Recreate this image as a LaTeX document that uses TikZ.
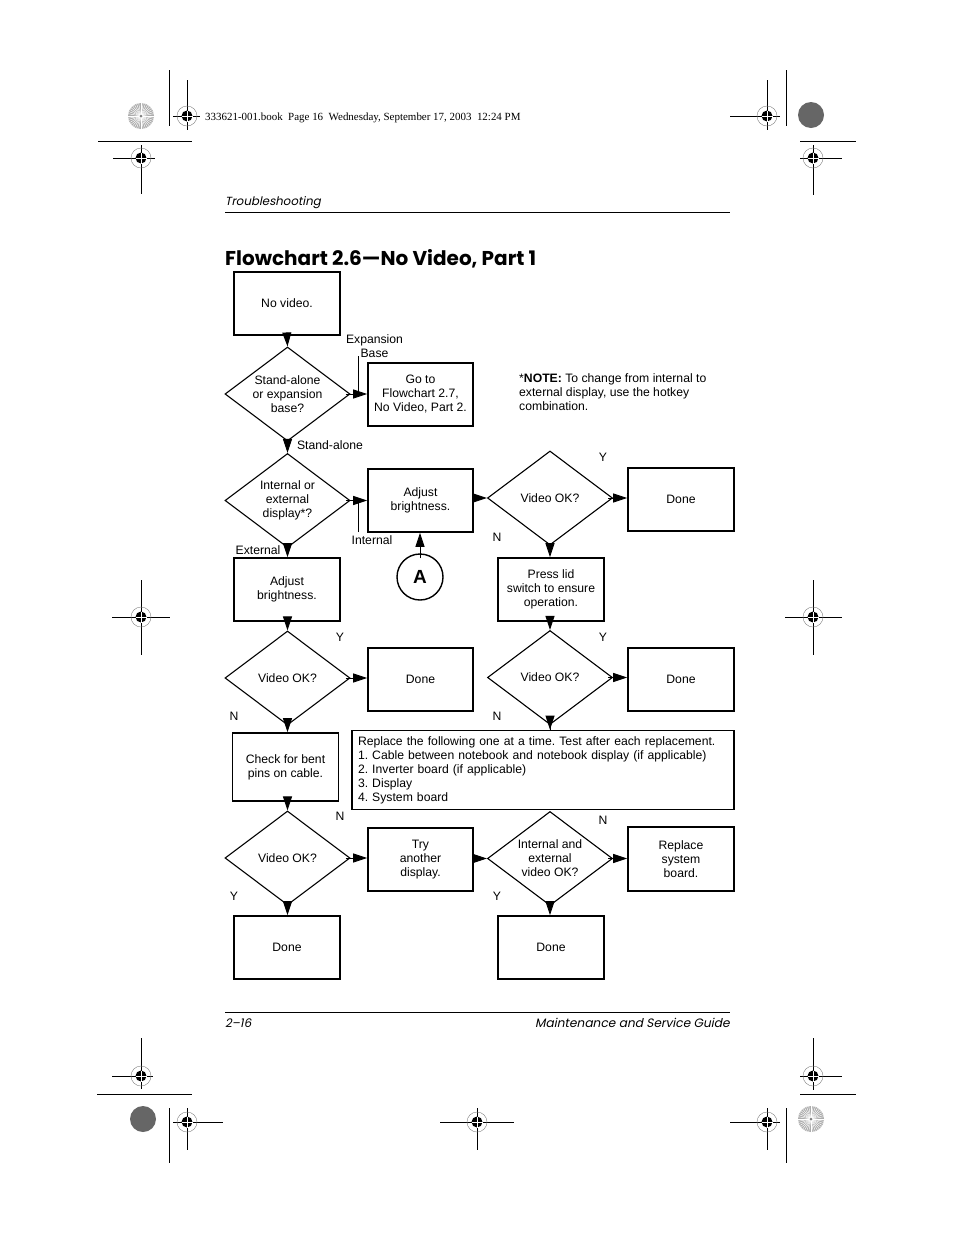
\documentclass[tikz,border=0pt]{standalone}
\usepackage{fontspec}
\setmainfont{Liberation Sans}
\newfontfamily\fcfont{Liberation Sans}
\newfontfamily\popfont{Poppins}
\newfontfamily\popit{Poppins}[FakeSlant=0.2]
\newfontfamily\serfont{Liberation Serif}
\usetikzlibrary{shapes.geometric,arrows.meta}
\newcommand\fcx{\fcfont\fontsize{12.2}{14}\selectfont\frenchspacing}
\newcommand\regmk[6]{%
  \draw[line width=0.8pt] (#3,#2) -- (#4,#2) (#1,#5) -- (#1,#6);
  \draw[gray, line width=0.4pt] (#1,#2) circle[radius=10];
  \fill (#1,#2) circle[radius=5.5];
  \draw[white, line width=0.6pt] (#1-5.5,#2) -- (#1+5.5,#2) (#1,#2-5.5) -- (#1,#2+5.5);
}
\newcommand\starb[2]{%
  \fill[gray!65] (#1,#2) circle[radius=13];
  \foreach \a in {0,10,...,350} \draw[white, line width=0.45pt] (#1,#2) -- ++(\a:13);
  \fill[gray] (#1,#2) circle[radius=1.5];
}
\newcommand\solidb[2]{\fill[gray!80!black] (#1,#2) circle[radius=13];}
\begin{document}
\begin{tikzpicture}[x=1pt,y=-1pt,
  box/.style={draw, line width=1.6pt, minimum width=106pt, minimum height=63pt, inner sep=1pt, align=center, font=\fcx},
  dia/.style={draw, diamond, line width=1.1pt, minimum width=125pt, minimum height=94pt, inner sep=0pt},
  dtext/.style={align=center, font=\fcx, inner sep=0pt},
  arr/.style={-{Triangle[length=14pt,width=9pt]}, line width=0.9pt, shorten <=-5pt},
  lab/.style={font=\fcx, inner sep=0pt},
  lead/.style={line width=0.6pt}]
\useasboundingbox (0,0) rectangle (954,1235);
\fill[white] (0,0) rectangle (954,1235);

% printer marks
\starb{141}{116}
\draw[line width=0.8pt] (169,70) -- (169,126);
\regmk{187}{116}{173}{200}{80}{130}
\draw[line width=0.8pt] (98,141) -- (192,141);
\regmk{141}{158}{113}{155}{145}{194}
\regmk{767}{116}{730}{780}{80}{130}
\draw[line width=0.8pt] (786,70) -- (786,126);
\solidb{811}{115}
\draw[line width=0.8pt] (800,141) -- (856,141);
\regmk{813}{158}{800}{842}{145}{195}
\regmk{141}{617}{112}{170}{580}{655}
\regmk{813}{617}{785}{842}{580}{655}
\regmk{141}{1076}{112}{153}{1038}{1089}
\draw[line width=0.8pt] (97,1094) -- (192,1094);
\solidb{143}{1119}
\draw[line width=0.8pt] (169,1108) -- (169,1163);
\regmk{187}{1122}{173}{223}{1108}{1150}
\regmk{477}{1122}{440}{514}{1108}{1150}
\regmk{813}{1076}{800}{842}{1038}{1090}
\draw[line width=0.8pt] (800,1094) -- (856,1094);
\starb{811}{1119}
\draw[line width=0.8pt] (786,1108) -- (786,1163);
\regmk{767}{1122}{730}{780}{1108}{1150}

% header / footer
\node[anchor=base west, inner sep=0pt, font=\serfont\fontsize{10.95}{12}\selectfont] (book) at (205,120) {333621-001.book\ \ Page 16\ \ Wednesday, September 17, 2003\ \ 12:24 PM};
\node[anchor=base west, inner sep=0pt, font=\popit\fontsize{11.8}{13}\selectfont] (hdr) at (225,205) {Troubleshooting};
\draw[line width=0.8pt] (225,212) -- (730,212);
\node[anchor=base west, inner sep=0pt, font=\popfont\bfseries\fontsize{20}{22}\selectfont] (title) at (225,265) {Flowchart 2.6—No Video, Part 1};
\draw[line width=0.8pt] (225,1012) -- (730,1012);
\node[anchor=base west, inner sep=0pt, font=\popit\fontsize{11.8}{13}\selectfont] (pg) at (225,1027) {2–16};
\node[anchor=base east, inner sep=0pt, font=\popit\fontsize{12.2}{13}\selectfont] (msg) at (730,1027) {Maintenance and Service Guide};

% left column
\node[box] (nv) at (287,303.5) {No video.};
\node[dia, label={[dtext]center:{Stand-alone\\or expansion\\base?}}] (d1) at (287.5,394) {};
\node[box, minimum width=105pt] (goto) at (420.5,394.5) {Go to\\Flowchart 2.7,\\No Video, Part 2.};
\node[dia, label={[dtext]center:{Internal or\\external\\display*?}}] (d2) at (287.5,500.5) {};
\node[box, minimum width=105pt] (adj1) at (420.5,500.5) {Adjust\\brightness.};
\node[circle, draw, line width=1.4pt, minimum size=46pt, inner sep=0pt, font=\fcfont\bfseries\fontsize{19}{19}\selectfont] (ca) at (420,577) {A};
\node[box] (adj2) at (287,589.5) {Adjust\\brightness.};
\node[dia, label={[dtext]center:{Video OK?}}] (d3) at (287.5,678) {};
\node[box, minimum width=105pt] (done1) at (420.5,679.5) {Done};
\node[box, minimum height=68pt] (check) at (285.5,767) {Check for bent\\pins on cable.};
\node[dia, label={[dtext]center:{Video OK?}}] (d4) at (287.5,858) {};
\node[box, minimum width=105pt] (try) at (420.5,859.5) {Try\\another\\display.};
\node[box] (done2) at (287,947.5) {Done};

% right column
\node[anchor=west, align=left, font=\fcx, inner sep=0pt] (note) at (519,392) {*\textbf{NOTE:} To change from internal to\\external display, use the hotkey\\combination.};
\node[dia, label={[dtext]center:{Video OK?}}] (r1) at (550,498) {};
\node[box] (doner1) at (681,499.5) {Done};
\node[box] (press) at (551,589.5) {Press lid\\switch to ensure\\operation.};
\node[dia, label={[dtext]center:{Video OK?}}] (r2) at (550,677.5) {};
\node[box] (doner2) at (681,679.5) {Done};
\node[draw, line width=1.4pt, text width=370pt, inner sep=6pt, minimum height=78pt, align=left, font=\fcx] (rep) at (543,770) {Replace the following one at a time. Test after each replacement.\\1. Cable between notebook and notebook display (if applicable)\\2. Inverter board (if applicable)\\3. Display\\4. System board};
\node[dia, label={[dtext]center:{Internal and\\external\\video OK?}}] (r3) at (550,858.5) {};
\node[box, minimum height=64pt] (repsys) at (681,859) {Replace\\system\\board.};
\node[box] (done3) at (551,947.5) {Done};

% connectors
\draw[arr] (nv.south) -- (d1.north);
\draw[arr] (d1.east) -- (d1.east -| goto.west);
\draw[arr] (d1.south) -- (d2.north);
\draw[arr] (d2.east) -- (d2.east -| adj1.west);
\draw[arr] (d2.south) -- (adj2.north -| d2.south);
\draw[arr] (ca.north) -- (adj1.south -| ca.north);
\draw[arr] (adj2.south -| d3.north) -- (d3.north);
\draw[arr] (d3.east) -- (d3.east -| done1.west);
\draw[arr] (d3.south) -- (check.north -| d3.south);
\draw[arr] (check.south -| d4.north) -- (d4.north);
\draw[arr] (d4.east) -- (d4.east -| try.west);
\draw[arr] (d4.south) -- (done2.north -| d4.south);
\draw[arr] (adj1.east |- r1.west) -- (r1.west);
\draw[arr] (r1.east) -- (r1.east -| doner1.west);
\draw[arr] (r1.south) -- (press.north -| r1.south);
\draw[arr] (press.south -| r2.north) -- (r2.north);
\draw[arr] (r2.east) -- (r2.east -| doner2.west);
\draw[arr] (r2.south) -- (rep.north -| r2.south);
\draw[arr] (try.east |- r3.west) -- (r3.west);
\draw[arr] (r3.east) -- (r3.east -| repsys.west);
\draw[arr] (r3.south) -- (done3.north -| r3.south);

% labels and leaders
\node[lab, align=center] (lexp) at (374.5,346) {Expansion\\Base};
\coordinate (lexpa) at (358,356);
\draw[lead] (lexpa) -- (lexpa |- d1.east);
\node[lab] (lsa) at (330,445) {Stand-alone};
\node[lab] (lint) at (372,540) {Internal};
\coordinate (linta) at (358,532);
\draw[lead] (linta) -- (linta |- d2.east);
\node[lab] (lext) at (258,550) {External};
\node[lab] at (340,637) {Y};
\node[lab] at (234,716) {N};
\node[lab] at (340,816) {N};
\node[lab] at (234,896) {Y};
\node[lab] at (603,457) {Y};
\node[lab] at (497,537) {N};
\node[lab] at (603,637) {Y};
\node[lab] at (497,716) {N};
\node[lab] at (603,820) {N};
\node[lab] at (497,896) {Y};
\end{tikzpicture}
\end{document}
